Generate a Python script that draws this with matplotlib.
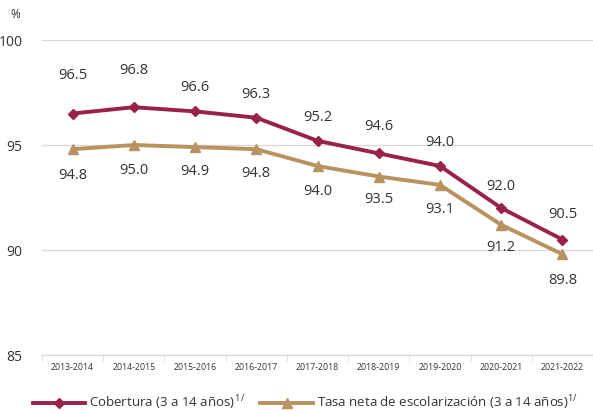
import matplotlib
matplotlib.use("Agg")
import matplotlib.pyplot as plt
import numpy as np

categories = ["2013-2014", "2014-2015", "2015-2016", "2016-2017", "2017-2018",
              "2018-2019", "2019-2020", "2020-2021", "2021-2022"]
cobertura = [96.5, 96.8, 96.6, 96.3, 95.2, 94.6, 94.0, 92.0, 90.5]
tasa_neta = [94.8, 95.0, 94.9, 94.8, 94.0, 93.5, 93.1, 91.2, 89.8]
yticks = [85, 90, 95, 100]

# label offsets in pixels (placement style)
off_cob = [38, 37, 24, 23, 23, 27, 24, 22, 25]
off_tasa = [-26, -25, -24, -24, -25, -23, -25, -23, -26]

plt.rcParams['font.family'] = ['Open Sans', 'DejaVu Sans']
c1 = "#9B2247"
c2 = "#B8925F"
tc = "#333333"

fig = plt.figure(figsize=(5.93, 4.11), dpi=100)
ax = fig.add_axes([42/593, 56/411, 551/593, 315/411])
x = np.arange(len(categories))

ax.plot(x, cobertura, color=c1, lw=2.8, marker="D", ms=5, zorder=4,
        label="Cobertura (3 a 14 años)$^{\\,\\mathregular{1/}}$")
ax.plot(x, tasa_neta, color=c2, lw=2.8, marker="^", ms=7, zorder=3,
        label="Tasa neta de escolarización (3 a 14 años)$^{\\mathregular{1/}}$")

for xi, v, o in zip(x, cobertura, off_cob):
    ax.annotate(f"{v:.1f}", (xi, v), xytext=(0, o * 0.72), textcoords="offset points",
                ha="center", va="center", fontsize=10.5, color=tc)
for xi, v, o in zip(x, tasa_neta, off_tasa):
    ax.annotate(f"{v:.1f}", (xi, v), xytext=(0, o * 0.72), textcoords="offset points",
                ha="center", va="center", fontsize=10.5, color=tc)

ax.set_xlim(-0.5, len(categories) - 0.5)
ax.set_ylim(85, 100)
ax.set_yticks(yticks)
ax.set_yticklabels([str(t) for t in yticks], fontsize=10, color=tc)
ax.grid(axis="y", color="#d9d9d9", lw=1)
ax.set_axisbelow(True)
ax.set_xticks(x)
ax.set_xticklabels(categories, fontsize=6.3, color=tc)
ax.set_xticks(np.arange(len(categories) + 1) - 0.5, minor=True)
ax.tick_params(axis="x", which="major", length=0, pad=6)
ax.tick_params(axis="x", which="minor", length=4, color="#d9d9d9")
ax.tick_params(axis="y", length=0, pad=14)
for s in ["top", "right", "left"]:
    ax.spines[s].set_visible(False)
ax.spines["bottom"].set_color("#d9d9d9")

fig.text(15/593, 1 - 15/411, "%", fontsize=8.5, color=tc, ha="center", va="center")

leg = fig.legend(loc="center", bbox_to_anchor=(0.515, 1 - 403/411), ncol=2,
                 frameon=False, fontsize=9.5, handlelength=4.0, columnspacing=1.1,
                 handletextpad=0.3, labelcolor=tc)

fig.savefig("out.png", dpi=100)
